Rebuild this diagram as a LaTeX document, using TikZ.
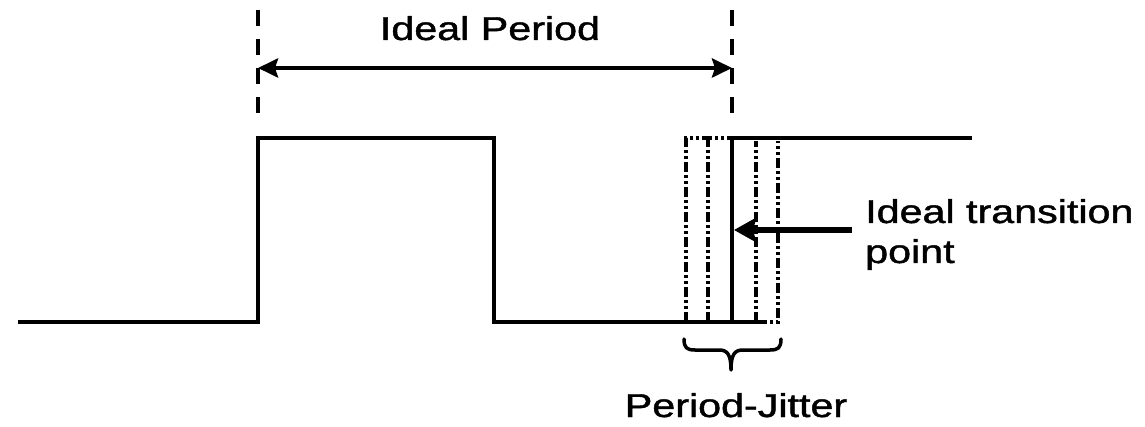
\documentclass[tikz,border=0pt]{standalone}
\usepackage{fontspec}
\setmainfont{Liberation Sans}[FakeBold=1.2]
\usetikzlibrary{arrows.meta}
\tikzset{
  sig/.style={line width=3.5pt, line join=miter},
  jit/.style={line width=3.5pt, dash pattern=on 10pt off 3pt on 3pt off 3pt on 3pt off 3pt},
  guide/.style={line width=3.5pt, dash pattern=on 16pt off 13pt},
  dimarrow/.style={line width=4pt, {Stealth[length=20pt,width=19pt,inset=3pt]}-{Stealth[length=20pt,width=19pt,inset=3pt]}},
  ptrarrow/.style={line width=5.5pt, -{Stealth[length=22pt,width=24pt,inset=3pt]}},
  lbl/.style={inner sep=0pt, font=\fontsize{33}{40}\selectfont},
}
\newcommand{\wide}[1]{\scalebox{1.25}[1]{#1}}
\begin{document}
\begin{tikzpicture}[x=1pt,y=-1pt]
\useasboundingbox (0,0) rectangle (1145,427);
% key points
\coordinate (s0) at (18,322);
\coordinate (r0) at (258,322);
\coordinate (r1) at (258,138);
\coordinate (f1) at (494,138);
\coordinate (f0) at (494,322);
\coordinate (e0) at (732,322);
\coordinate (e1) at (732,138);
\coordinate (end) at (972,138);
\coordinate (lowend) at (757,322);
% signal
\draw[sig] (s0) -- (r0) -- (r1) -- (f1) -- (f0) -- (lowend);
\draw[sig] (e0) -- (e1) -- (end);
% jitter edges
\draw[jit] (686,322) -- (686,138) -- (e1);
\draw[jit] (708,322) -- (708,138);
\draw[jit] (756,322) -- (756,141);
\draw[jit] (lowend) -- (778,322) -- (778,141);
% guides
\coordinate (g1t) at (258,10);
\coordinate (g1b) at (258,125);
\coordinate (g2t) at (732,10);
\coordinate (g2b) at (732,125);
\draw[guide] (g1t) -- (g1b);
\draw[guide] (g2t) -- (g2b);
% ideal period arrow
\coordinate (pa) at (258,68);
\coordinate (pb) at (732,68);
\draw[dimarrow] (pa) -- (pb);
\node[lbl, anchor=base] (ip) at (490,40) {\wide{Ideal Period}};
% transition pointer
\node[lbl, anchor=base west] (tr1) at (865,223) {\wide{Ideal transition}};
\node[lbl, anchor=base west] (tr2) at (865,263) {\wide{point}};
\coordinate (ptrs) at (852,230);
\coordinate (ptre) at (734,230);
\draw[ptrarrow] (ptrs) -- (ptre);
% brace
\draw[line width=3.5pt, line cap=round, line join=round]
  (684,339) .. controls (684,348) and (687,350) .. (695,350) -- (719,350)
  .. controls (727,350) and (731,354) .. (731,370)
  .. controls (731,354) and (735,350) .. (743,350) -- (770,350)
  .. controls (778,350) and (781,348) .. (781,339);
\node[lbl, anchor=base] (pj) at (736,417) {\wide{Period-Jitter}};
\end{tikzpicture}
\end{document}
